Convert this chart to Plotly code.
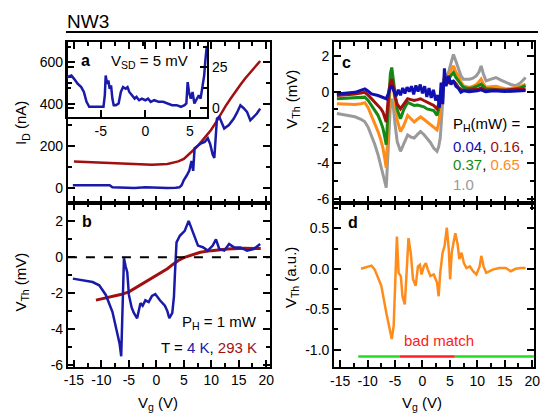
import plotly.graph_objects as go

W, H = 543, 420
def px(x): return x / W
def py(y): return 1 - y / H

FONT = "Arial, Liberation Sans, sans-serif"
BLUE = "#1a1aa8"
DRED = "#a01010"
GREEN = "#148a14"
ORANGE = "#ff8c1a"
GRAY = "#9a9a9a"

# ---------------- panel a : I_D vs Vg ----------------
a_vg_4K = [-15.2, -12, -10, -8.5, -8, -6, -4, -2, 0, 2, 3.5, 4.2, 4.6, 5.0, 5.5, 6.0, 6.4, 6.7,
           6.96, 7.5, 8.16, 8.8, 9.36, 9.8, 10.25, 10.55, 11.03, 11.45, 12.35, 13.2, 14.1, 14.7,
           15.3, 15.9, 16.5, 17.1, 17.7, 18.3, 18.9]
a_id_4K = [15, 16, 14, 15, 5, 3, 2, 5, 3, 2, 3, 5, 15, 40, 60, 85, 130, 83,
           191, 200, 214, 220, 238, 210, 160, 144, 331, 340, 284, 300, 331, 360,
           394, 380, 363, 323, 340, 355, 378]
a_vg_293K = [-15, -12, -9, -6, -3, -0.8, 2, 4, 5, 6.4, 7.3, 8.2, 9.1, 9.95, 10.9, 11.75, 12.6,
             13.5, 14.4, 15.3, 16.2, 17.1, 18, 18.9]
a_id_293K = [128, 125, 121, 117, 114, 112, 116, 128, 140, 172, 195, 222, 248, 277, 315, 355, 390,
             425, 460, 491, 522, 550, 578, 604]

# inset (V_SD = 5 mV)
in_vg = [-8.8, -8.3, -8.0, -7.6, -7.2, -6.9, -6.6, -6.3, -5.5, -5.0, -4.7, -4.55, -4.45, -4.3,
         -4.15, -4.0, -3.85, -3.7, -3.55, -3.3, -3.0, -2.75, -2.5, -2.2, -2.0, -1.8, -1.5, -1.2,
         -1.0, -0.7, -0.4, 0, 0.3, 0.6, 1.0, 1.5, 2.0, 2.5, 3.0, 3.5, 4.0, 4.4, 4.6, 4.75, 4.9,
         5.1, 5.3, 5.5, 5.7, 6.0, 6.2, 6.4, 6.6, 6.75, 6.9]
in_id = [19, 20, 18, 15, 13, 10, 4, 1, 1, 1, 1, 8, 20, 15,
         17, 12, 14, 6, 2, 2, 3, 10, 13, 12, 13, 10, 8, 6,
         7, 5, 6, 5, 6, 4, 5, 4, 4, 3, 2, 2, 1, 2, 3, 16, 10,
         6, 10, 3, 5, 8, 6, 14, 20, 30, 38]

# ---------------- panel b : V_Th vs Vg ----------------
b_vg_4K = [-15.2, -13, -11.6, -10.4, -9.2, -8.0, -7.1, -6.7, -6.4, -6.2, -5.9, -5.6, -5.3, -5.0,
           -4.5, -4.1, -3.5, -2.9, -2.5, -2.0, -1.4, -0.8, -0.2, 0.65, 1.55, 2.0, 2.36, 2.9, 3.2,
           3.37, 3.67, 4.27, 5.16, 5.88, 6.67, 7.57, 8.46, 9.36, 10.26, 10.85, 11.45, 12.35,
           13.24, 14.14, 15.3, 16.5, 17.7, 18.9]
b_vth_4K = [-1.19, -1.3, -1.38, -1.56, -2.1, -3.04, -4.14, -4.8, -5.52, -3.0, -0.05, -0.5, -0.83,
            -2.1, -2.8, -3.1, -3.4, -2.56, -2.7, -2.4, -2.5, -2.15, -2.05, -2.4, -2.7, -3.0, -3.4,
            -3.1, -2.2, -1.0, 0.83, 1.2, 1.47, 2.03, 1.38, 0.65, 0.56, 0.37, 0.65, 1.0, 0.46, 0.37,
            0.74, 0.55, 0.55, 0.37, 0.46, 0.74]
b_vg_293K = [-11, -9.5, -8, -6.5, -5, -3.5, -2, -1, 0, 1, 2, 3, 4, 5, 6, 7, 8, 10, 13, 16, 19]
b_vth_293K = [-2.39, -2.3, -2.2, -2.08, -1.93, -1.65, -1.38, -1.18, -1.0, -0.82, -0.64, -0.4,
              -0.18, -0.02, 0.09, 0.2, 0.28, 0.37, 0.46, 0.5, 0.49]

# ---------------- panel c : V_Th for several heater powers ----------------
c_vg = [-15.6, -13.5, -12.3, -11.2, -10.5, -9.9, -9.3, -8.7, -8.1, -7.6, -7.2, -6.9, -6.6, -6.35,
        -6.1, -5.85, -5.6, -5.3, -5.0, -4.6, -4.0, -3.4, -2.7, -2.1, -1.5, -0.9, -0.35, 0.25,
        0.85, 1.45, 2.05, 2.65, 2.95, 3.24, 3.55, 3.85, 4.3, 4.75, 5.2, 5.65, 6.1, 6.54, 7.0,
        7.44, 8.0, 8.6, 9.2, 9.8, 10.3, 10.7, 11.1, 11.6, 12.5, 13.4, 14.3, 15.2, 16.1, 17.0,
        17.9, 18.8]
c_p100 = [-1.23, -1.32, -1.41, -1.55, -1.69, -2.0, -2.43, -2.95, -3.54, -4.1, -4.64, -5.0, -5.38,
          -4.0, -2.0, -0.8, -0.4, -0.9, -1.8, -2.8, -3.35, -2.9, -2.43, -2.55, -2.6, -2.4, -2.24,
          -2.4, -2.6, -2.85, -3.17, -3.35, -3.1, -2.6, -1.2, 0.33, 0.8, 1.07, 1.6, 2.08, 1.7,
          1.25, 0.9, 0.7, 0.68, 0.7, 0.75, 0.88, 1.1, 1.44, 1.0, 0.6, 0.7, 0.79, 0.65, 0.51, 0.4,
          0.33, 0.5, 0.79]
c_p065 = [-0.68, -0.7, -0.72, -0.68, -0.62, -0.9, -1.33, -1.75, -2.24, -2.7, -3.17, -3.7, -4.27,
          -2.5, -0.6, 0.5, 0.98, 0.3, -0.6, -1.6, -2.24, -1.9, -1.33, -1.5, -1.7, -1.55, -1.42,
          -1.55, -1.7, -1.85, -1.97, -2.15, -1.8, -1.14, -0.3, 0.7, 0.8, 0.88, 1.2, 1.44, 1.1,
          0.88, 0.55, 0.33, 0.28, 0.24, 0.3, 0.4, 0.55, 0.7, 0.45, 0.24, 0.28, 0.3, 0.22, 0.15,
          0.18, 0.22, 0.3, 0.42]
c_p037 = [-0.4, -0.38, -0.36, -0.32, -0.31, -0.5, -0.78, -1.05, -1.33, -1.7, -2.06, -2.5, -2.98,
          -1.5, 0.0, 1.0, 1.35, 0.6, -0.3, -1.0, -1.52, -1.0, -0.6, -0.7, -0.78, -0.75, -0.78,
          -0.85, -0.97, -1.0, -1.06, -1.33, -1.0, -0.4, 0.1, 0.51, 0.6, 0.7, 0.9, 1.07, 0.8, 0.6,
          0.4, 0.24, 0.2, 0.18, 0.22, 0.28, 0.35, 0.42, 0.3, 0.15, 0.15, 0.12, 0.08, 0.06, 0.1,
          0.15, 0.22, 0.33]
c_p016 = [-0.22, -0.18, -0.13, -0.08, -0.04, -0.2, -0.4, -0.6, -0.78, -0.95, -1.15, -1.4, -1.7,
          -0.8, 0.1, 0.5, 0.7, 0.3, -0.3, -0.7, -0.97, -0.7, -0.4, -0.45, -0.5, -0.45, -0.4,
          -0.5, -0.6, -0.7, -0.78, -0.97, -0.7, -0.22, 0.1, 0.33, 0.45, 0.51, 0.55, 0.6, 0.45,
          0.24, 0.12, 0.06, 0.08, 0.1, 0.1, 0.12, 0.15, 0.2, 0.12, 0.08, 0.1, 0.1, 0.08, 0.08,
          0.1, 0.12, 0.13, 0.15]
c_vg_p004 = [-15.6, -14, -12.3, -11, -10.5, -10, -9.3, -8.1, -7.2, -6.6, -6.2, -5.9, -5.6, -5.2,
             -4.8, -4.4, -4.0, -3.6, -3.2, -2.8, -2.4, -2.0, -1.6, -1.2, -0.8, -0.4, 0, 0.4, 0.8,
             1.2, 1.6, 2.0, 2.4, 2.8, 3.1, 3.4, 3.7, 4.0, 4.3, 4.75, 5.2, 5.65, 6.1, 6.5, 7.0,
             7.5, 8.5, 10, 10.7, 11.5, 13, 15, 17, 18.8]
c_p004 = [-0.13, -0.1, -0.04, 0.1, 0.15, 0.05, -0.13, -0.22, -0.31, -0.4, -0.1, 0.2, 0.33, 0.0,
          -0.25, 0.1, -0.2, 0.2, -0.1, 0.25, 0.0, 0.3, -0.15, 0.35, 0.0, 0.4, -0.1, 0.3, -0.3,
          0.2, -0.35, 0.1, -0.5, -0.2, -0.9, 0.5, -0.7, 1.3, 0.3, 0.88, 0.4, 0.6, 0.3, 0.2,
          -0.04, 0.05, 0.0, 0.05, 0.1, 0.0, 0.05, 0.0, 0.05, 0.06]

# ---------------- panel d ----------------
d_vg = [-11.2, -9.9, -9.3, -8.7, -7.5, -6.6, -6.0, -5.6, -5.25, -4.95, -4.66, -4.35, -3.94,
        -3.64, -3.22, -2.86, -2.55, -2.14, -1.72, -1.24, -0.82, -0.46, -0.17, 0.26, 0.62, 0.98,
        1.45, 2.06, 2.65, 2.95, 3.24, 3.67, 4.03, 4.44, 4.8, 5.04, 5.34, 5.65, 6.0, 6.42, 6.72,
        7.13, 7.55, 8.03, 8.63, 9.23, 9.83, 10.42, 10.73, 11.14, 11.62, 12.8, 14.0, 15.2, 16.1,
        17.0, 17.9, 18.8]
d_vth = [0.0, 0.03, 0.04, -0.01, -0.21, -0.54, -0.75, -0.87, -0.71, -0.21, 0.4, -0.05, -0.09,
         -0.34, -0.44, -0.01, 0.38, 0.2, -0.13, -0.21, 0.03, 0.05, -0.07, 0.03, 0.07, -0.01,
         -0.09, -0.07, -0.17, -0.34, -0.05, 0.2, 0.28, 0.51, 0.24, -0.13, 0.2, 0.32, 0.44, 0.3,
         0.12, 0.2, 0.07, 0.01, 0.03, -0.03, -0.07, 0.03, 0.16, 0.03, -0.05, -0.01, 0.01, 0.01,
         -0.03, 0.0, 0.01, 0.01]
match_edges = [-11.7, -4.2, 5.9, 20.3]
match_level = -1.086

# tick labels
vg_ticks = [-15, -10, -5, 0, 5, 10, 15, 20]
vg_labels = ["-15", "-10", "-5", "0", "5", "10", "15", "20"]
inset_x_ticks = [-5, 0, 5]
inset_x_labels = ["-5", "0", "5"]
vth_ticks = [-6, -4, -2, 0, 2]
vth_labels = ["-6", "-4", "-2", "0", "2"]
d_ticks = [-1.0, -0.5, 0.0, 0.5]
d_labels = ["-1.0", "-0.5", "0.0", "0.5"]

fig = go.Figure()

def line(x, y, xa, ya, color, width=2.5):
    fig.add_trace(go.Scatter(x=x, y=y, xaxis=xa, yaxis=ya, mode="lines",
                             line=dict(color=color, width=width), showlegend=False,
                             hoverinfo="skip"))

line(a_vg_293K, a_id_293K, "x", "y", DRED)
line(a_vg_4K, a_id_4K, "x", "y", BLUE)
line(in_vg, in_id, "x2", "y2", BLUE)
line(b_vg_293K, b_vth_293K, "x3", "y3", DRED, 3)
line(b_vg_4K, b_vth_4K, "x3", "y3", BLUE)
line(c_vg, c_p100, "x4", "y4", GRAY, 3)
line(c_vg, c_p065, "x4", "y4", ORANGE, 3)
line(c_vg, c_p037, "x4", "y4", GREEN, 3)
line(c_vg, c_p016, "x4", "y4", DRED, 3)
line(c_vg_p004, c_p004, "x4", "y4", "#1010b0", 3)
line(d_vg, d_vth, "x5", "y5", ORANGE, 2.5)
line(match_edges[0:2], [match_level] * 2, "x5", "y5", "#22dd22", 2.5)
line(match_edges[1:3], [match_level] * 2, "x5", "y5", "#ff2020", 2.5)
line(match_edges[2:4], [match_level] * 2, "x5", "y5", "#22dd22", 2.5)

common = dict(showline=True, linewidth=2, linecolor="black", mirror="ticks",
              ticks="inside", ticklen=7, tickwidth=2, tickcolor="black",
              showgrid=False, zeroline=False,
              tickfont=dict(family=FONT, size=14, color="black"))

def minor(d):
    return dict(dtick=d, ticks="inside", ticklen=4, tickwidth=2, tickcolor="black",
                showgrid=False)

XR = [-16.1, 20.6]
fig.update_layout(
    width=W, height=H, margin=dict(l=0, r=0, t=0, b=0),
    plot_bgcolor="rgba(0,0,0,0)", paper_bgcolor="white",
    xaxis=dict(common, domain=[px(65), px(270)], range=XR, anchor="y",
               tickvals=vg_ticks, ticktext=vg_labels,
               minor=minor(2.5), showticklabels=False),
    yaxis=dict(common, domain=[py(205.5), py(43)], range=[-67, 692], anchor="x",
               dtick=200, minor=minor(100)),
    xaxis2=dict(common, domain=[px(64), px(206.7)], range=[-8.8, 6.95], anchor="y2",
                tickvals=inset_x_ticks, ticktext=inset_x_labels),
    yaxis2=dict(common, domain=[py(119), py(43)], range=[-5.4, 40.2], anchor="x2",
                side="right", dtick=25, minor=minor(12.5)),
    xaxis3=dict(common, domain=[px(65), px(270)], range=XR, anchor="y3",
                tickvals=vg_ticks, ticktext=vg_labels, minor=minor(2.5)),
    yaxis3=dict(common, domain=[py(372), py(205.5)], range=[-6.1, 3.05], anchor="x3",
                tickvals=vth_ticks, ticktext=vth_labels, minor=minor(1)),
    xaxis4=dict(common, domain=[px(335.7), px(539.3)], range=[-16.1, 20.4], anchor="y4",
                tickvals=vg_ticks, minor=minor(2.5), showticklabels=False),
    yaxis4=dict(common, domain=[py(205.5), py(43)], range=[-6.22, 2.76], anchor="x4",
                tickvals=vth_ticks, ticktext=vth_labels, minor=minor(1)),
    xaxis5=dict(common, domain=[px(335.7), px(539.3)], range=[-16.1, 20.4], anchor="y5",
                tickvals=vg_ticks, ticktext=vg_labels, minor=minor(2.5)),
    yaxis5=dict(common, domain=[py(372.7), py(205.5)], range=[-1.22, 0.82], anchor="x5",
                tickvals=d_ticks, ticktext=d_labels, minor=minor(0.25)),
)

# dashed zero line in panel b
fig.add_shape(type="line", xref="x3 domain", yref="y3", x0=0, x1=1, y0=0, y1=0,
              line=dict(color="black", width=2, dash="dash"))
# header rule
fig.add_shape(type="line", xref="paper", yref="paper", x0=px(63), x1=1, y0=py(32.5),
              y1=py(32.5), line=dict(color="black", width=2))

def txt(s, x, y, size=14, color="black", xanchor="center", angle=0, bold=False):
    fig.add_annotation(text=("<b>%s</b>" % s) if bold else s, x=px(x), y=py(y),
                       xref="paper", yref="paper", showarrow=False, xanchor=xanchor,
                       yanchor="middle", textangle=angle,
                       font=dict(family=FONT, size=size, color=color))

txt("NW3", 62, 22, size=19, xanchor="left")
txt("a", 83, 61, size=16, bold=True)
txt("b", 84, 225, size=16, bold=True)
txt("c", 348, 63, size=16, bold=True)
txt("d", 355, 226, size=16, bold=True)
txt("V<sub>SD</sub> = 5 mV", 148, 62, size=15)
txt("I<sub>D</sub> (nA)", 18, 125, size=15, angle=-90)
txt("V<sub>Th</sub> (mV)", 18, 286, size=15, angle=-90)
txt("V<sub>g</sub> (V)", 157, 409, size=15)
txt("V<sub>Th</sub> (mV)", 293, 101, size=15, angle=-90)
txt("V<sub>Th</sub> (a.u.)", 293, 282, size=15, angle=-90)
txt("V<sub>g</sub> (V)", 425, 409, size=15)
txt("P<sub>H</sub> = 1 mW", 259, 327, size=15, xanchor="right")
txt("T = <span style='color:%s'>4 K</span>, <span style='color:%s'>293 K</span>" % (BLUE, DRED),
    259, 353, size=15, xanchor="right")
txt("P<sub>H</sub>(mW) =", 455, 126, size=15, xanchor="left")
txt("<span style='color:#1010b0'>0.04</span>, <span style='color:%s'>0.16</span>," % DRED,
    455, 149, size=15, xanchor="left")
txt("<span style='color:%s'>0.37</span>, <span style='color:%s'>0.65</span>" % (GREEN, ORANGE),
    455, 167, size=15, xanchor="left")
txt("<span style='color:%s'>1.0</span>" % GRAY, 455, 187, size=15, xanchor="left")
txt("bad match", 442, 345, size=15, color="#ff2020")

fig.write_html("out.html", config={"displayModeBar": False},
               post_script="document.body.style.margin='0';"
                           "document.body.style.overflow='hidden';")
